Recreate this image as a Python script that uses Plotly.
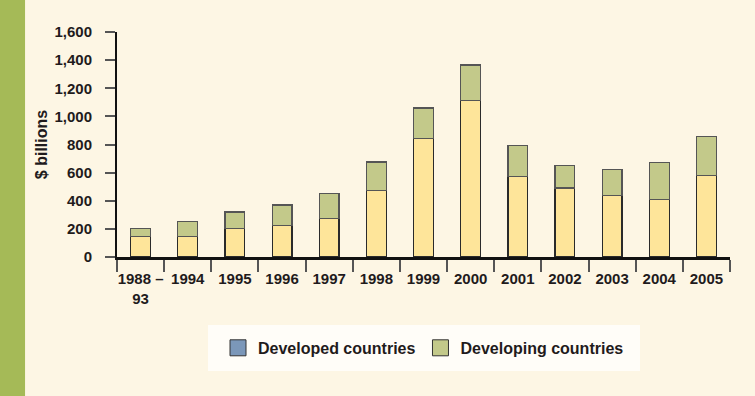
import plotly.graph_objects as go

categories = ["1988–93", "1994", "1995", "1996", "1997", "1998", "1999",
              "2000", "2001", "2002", "2003", "2004", "2005"]
tick_labels = ["1988 –<br>93", "1994", "1995", "1996", "1997", "1998", "1999",
               "2000", "2001", "2002", "2003", "2004", "2005"]
developed = [145, 145, 200, 225, 275, 475, 845, 1115, 575, 490, 440, 410, 580]
developing = [60, 110, 120, 145, 175, 200, 215, 250, 220, 160, 180, 260, 275]
y_ticks = [0, 200, 400, 600, 800, 1000, 1200, 1400, 1600]
y_tick_labels = ["0", "200", "400", "600", "800", "1,000", "1,200", "1,400", "1,600"]

FONT = "Liberation Sans Narrow, Arial Narrow, Liberation Sans, sans-serif"
TXT = "#1f1b1c"
YELLOW = "#fee59a"
GREEN = "#c3c98a"
BLUE = "#7b97b9"
BG = "#fdf6e4"
FS = 15

fig = go.Figure()
fig.add_trace(go.Bar(x=categories, y=developed, marker=dict(color=YELLOW, line=dict(color="#2a2a2a", width=1.2)),
                     width=0.42, showlegend=False, name="Developed countries"))
fig.add_trace(go.Bar(x=categories, y=developing, marker=dict(color=GREEN, line=dict(color="#555555", width=1.2)),
                     width=0.42, showlegend=False, name="Developing countries"))
# legend entries
fig.add_trace(go.Scatter(x=[None], y=[None], mode="markers", name="Developed countries",
                         marker=dict(symbol="square", size=16, color=BLUE, line=dict(color="#333", width=1))))
fig.add_trace(go.Scatter(x=[None], y=[None], mode="markers", name="Developing countries",
                         marker=dict(symbol="square", size=16, color=GREEN, line=dict(color="#333", width=1))))

fig.update_layout(
    width=755, height=396,
    barmode="stack",
    paper_bgcolor=BG, plot_bgcolor=BG,
    margin=dict(l=117, r=25, t=32, b=139, autoexpand=False),
    font=dict(family=FONT, size=FS, color=TXT, weight="bold"),
    legend=dict(orientation="h", x=0.5, xanchor="center", y=-0.404, yanchor="middle",
                traceorder="normal",
                bgcolor="rgba(0,0,0,0)", font=dict(family=FONT, size=16, color=TXT, weight="bold"),
                itemsizing="trace", borderwidth=0),
    shapes=[dict(type="rect", xref="paper", yref="paper", x0=-0.1909, x1=-0.150, y0=-0.62, y1=1.15,
                 fillcolor="#a5ba57", line=dict(width=0), layer="below"),
            dict(type="rect", xref="paper", yref="paper", x0=0.1485, x1=0.8532, y0=-0.5067, y1=-0.3022,
                 fillcolor="#fffdf8", line=dict(width=0), layer="below")],
)
fig.update_xaxes(type="category", tickmode="array", tickvals=categories, ticktext=tick_labels,
                 tickson="boundaries", ticks="outside", ticklen=12, tickcolor="#555555", tickwidth=1.5,
                 tickangle=0, ticklabelstandoff=6,
                 showline=True, linecolor="#111111", linewidth=3, showgrid=False,
                 range=[-0.5, 12.5], tickfont=dict(size=FS, family=FONT, color=TXT, weight="bold"))
fig.update_yaxes(range=[0, 1600], tickmode="array", tickvals=y_ticks, ticktext=y_tick_labels,
                 ticks="outside", ticklen=10, tickcolor="#555555", tickwidth=1.5,
                 showline=True, linecolor="#111111", linewidth=2, showgrid=False, zeroline=False,
                 ticklabelstandoff=10,
                 tickfont=dict(size=15, family=FONT, color=TXT, weight="bold"),
                 title=dict(text="$ billions", standoff=3, font=dict(size=16, family=FONT, color=TXT, weight="bold")))

fig.write_html("out.html", post_script="document.body.style.margin='0px';",
               config={"displayModeBar": False})
